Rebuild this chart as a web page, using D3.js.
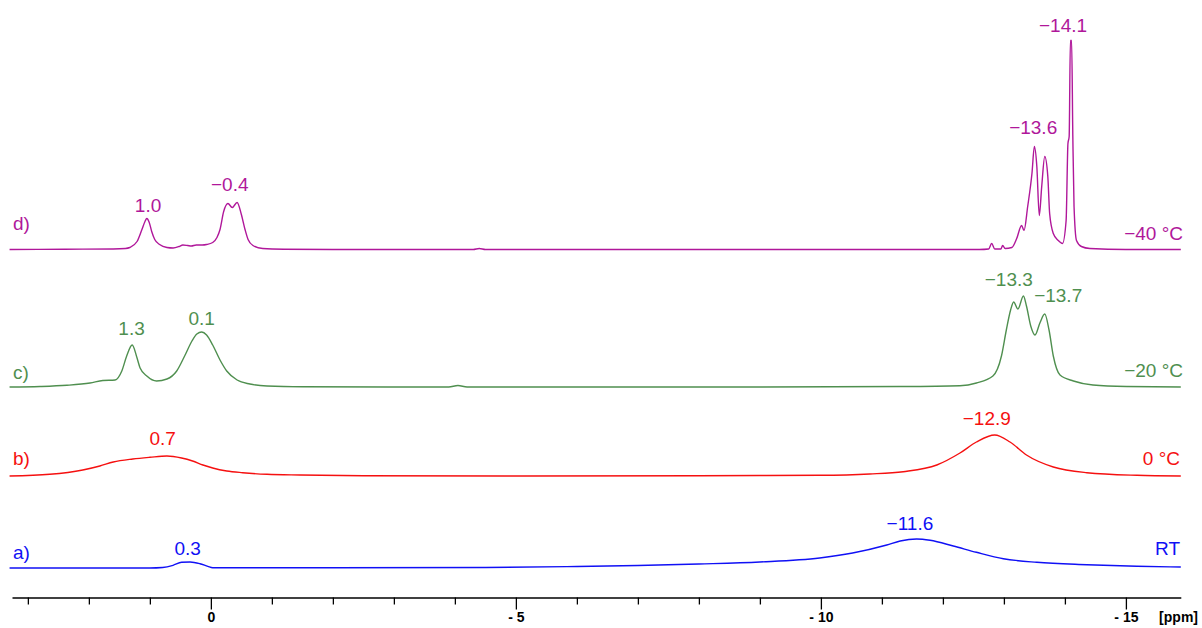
<!DOCTYPE html>
<html>
<head>
<meta charset="utf-8">
<script src="https://cdn.jsdelivr.net/npm/d3@7"></script>
<style>
  html, body { margin: 0; padding: 0; background: #fff; }
  svg { display: block; }
  text { font-family: "Liberation Sans", Arial, sans-serif; }
</style>
</head>
<body>
<svg id="chart" width="1202" height="628"></svg>
<script>
// 1H NMR spectra at four temperatures: [chemical shift (ppm), intensity]
const spectrumRT = [
  [3.30,0],[1.0,0],[0.79,0.5],[0.62,2.7],[0.48,5.7],[0.34,6],[0.18,4.3],[0.05,1.7],[-0.03,0.3],
  [-2,0.3],[-4.5,0.5],[-6,1.5],[-7,2.5],[-8,4],[-9,6],[-9.98,10],[-10.52,15],[-11.08,23],
  [-11.3,27],[-11.57,29],[-11.79,27.7],[-12.17,22],[-12.55,15.7],[-12.99,9.3],[-13.54,5.7],
  [-14.36,3.3],[-15.18,1.7],[-15.9,1]
];
const spectrum0C = [
  [3.30,0],[2.64,1.7],[2.10,6],[1.82,10],[1.60,14],[1.28,17],[1.00,18.7],[0.72,20],[0.48,18],
  [0.30,15],[0.13,11],[-0.03,8],[-0.26,5],[-0.52,3.3],[-0.92,1.7],[-1.46,1],[-2.5,0.3],[-5,0],
  [-8,0.3],[-9.0,0.5],[-9.98,0.7],[-10.8,2],[-11.35,4.3],[-11.9,11],[-12.28,23],[-12.55,34],
  [-12.85,41],[-13.1,34],[-13.37,21],[-13.81,9],[-14.36,3.3],[-15.18,0.7],[-15.9,0]
];
const spectrumM20C = [
  [3.30,0],[2.8,0.5],[2.36,1.7],[1.98,4],[1.77,6.5],[1.57,7],[1.46,16],[1.38,31],[1.29,42],
  [1.21,29],[1.16,19],[1.05,11],[0.89,6],[0.72,8],[0.56,16],[0.43,31],[0.31,46],[0.23,53],
  [0.15,55],[0.07,52],[-0.03,42],[-0.15,27],[-0.26,16],[-0.43,7],[-0.64,3],[-0.92,1],[-1.5,0.3],
  [-3.9,0],[-4.05,1.5],[-4.2,0],[-9,0],[-11.3,0.5],[-12.28,1.3],[-12.55,4],[-12.82,11],
  [-12.96,31],[-13.04,57],[-13.11,77],[-13.16,85],[-13.23,78],[-13.32,91],[-13.37,81],
  [-13.44,61],[-13.51,52],[-13.59,64],[-13.67,73],[-13.74,57],[-13.81,31],[-13.92,12],
  [-14.14,6],[-14.46,2],[-15.01,0.5],[-15.9,0]
];
const spectrumM40C = [
  [3.30,0],[2.40,0.3],[1.60,0.5],[1.40,1],[1.33,2],[1.21,8],[1.13,20],[1.08,28],[1.05,31],
  [1.01,27],[0.97,18],[0.92,10],[0.84,5],[0.72,2],[0.62,1.5],[0.52,3],[0.46,4.5],[0.38,4],
  [0.32,3.5],[0.24,4.5],[0.14,4.5],[0.07,5],[-0.03,7],[-0.10,12],[-0.15,20],[-0.21,38],
  [-0.28,46],[-0.35,42],[-0.43,47],[-0.50,35],[-0.56,20],[-0.61,10],[-0.69,4],[-0.85,1],
  [-1.2,0.3],[-2.0,0],[-4.3,0],[-4.4,1],[-4.5,0],[-8,0],[-12.6,0],[-12.75,0.5],[-12.80,6],
  [-12.85,0.5],[-12.95,0.5],[-12.98,4],[-13.02,1],[-13.13,2],[-13.21,11],[-13.29,24],
  [-13.33,19],[-13.39,43],[-13.46,76],[-13.50,103],[-13.54,83],[-13.58,34],[-13.62,63],
  [-13.67,93],[-13.72,73],[-13.75,36],[-13.81,16],[-13.89,9],[-13.96,6],[-14.02,29],
  [-14.05,106],[-14.07,113],[-14.09,209],[-14.11,209],[-14.13,113],[-14.15,43],[-14.19,9],
  [-14.27,3],[-14.41,1],[-15.0,0],[-15.9,0]
];

// Trace tags and temperature captions
const traceTags = ["a)", "b)", "c)", "d)"];
const temperatures = ["RT", "0 \u00B0C", "\u221220 \u00B0C", "\u221240 \u00B0C"];

// Peak shift labels per trace: [text, shift]
const peaksRT   = [["0.3", 0.38], ["\u221211.6", -11.46]];
const peaks0C   = [["0.7", 0.79], ["\u221212.9", -12.72]];
const peaksM20C = [["1.3", 1.30], ["0.1", 0.15], ["\u221213.3", -13.08], ["\u221213.7", -13.89]];
const peaksM40C = [["1.0", 1.03], ["\u22120.4", -0.31], ["\u221213.6", -13.48], ["\u221214.1", -13.97]];

// Axis ticks (ppm)
const tickValues = d3.range(3, -16, -1);
const labelledTicks = [0, -5, -10, -15];

// ---- layout & styling ----
const svg = d3.select("#chart");
const x = d3.scaleLinear().domain([3.26, -15.9]).range([12, 1180.8]);

const traces = [
  { data: spectrumRT,   peaks: peaksRT,   color: "#1010F5", base: 568,   tagLift: 16,  tempLift: 20, tempRight: 1180,
    peakLift: [20, 45] },
  { data: spectrum0C,   peaks: peaks0C,   color: "#F51010", base: 476,   tagLift: 18,  tempLift: 18, tempRight: 1180,
    peakLift: [38, 58] },
  { data: spectrumM20C, peaks: peaksM20C, color: "#4F8F4F", base: 387,   tagLift: 15,  tempLift: 17, tempRight: 1183,
    peakLift: [59, 69, 108, 92] },
  { data: spectrumM40C, peaks: peaksM40C, color: "#B0179A", base: 249.5, tagLift: 26.5, tempLift: 16.5, tempRight: 1183,
    peakLift: [44.5, 65, 122, 224] }
];

traces.forEach((t, i) => {
  const y = d3.scaleLinear().domain([0, 100]).range([t.base, t.base - 100]);
  const line = d3.line()
    .x(d => x(d[0]))
    .y(d => y(d[1]))
    .curve(d3.curveMonotoneX);

  const g = svg.append("g").attr("class", "trace");
  g.append("path")
    .datum(t.data)
    .attr("d", line)
    .attr("fill", "none")
    .attr("stroke", t.color)
    .attr("stroke-width", 1.4)
    .attr("stroke-linejoin", "round");

  g.append("text")
    .attr("x", 13).attr("y", t.base - t.tagLift)
    .attr("dominant-baseline", "central")
    .attr("font-size", 19)
    .attr("fill", t.color)
    .text(traceTags[i]);

  g.append("text")
    .attr("x", t.tempRight).attr("y", t.base - t.tempLift)
    .attr("text-anchor", "end")
    .attr("dominant-baseline", "central")
    .attr("font-size", 19)
    .attr("fill", t.color)
    .text(temperatures[i]);

  g.selectAll("text.peak")
    .data(t.peaks)
    .join("text")
    .attr("class", "peak")
    .attr("x", d => x(d[1]))
    .attr("y", (d, k) => t.base - t.peakLift[k])
    .attr("text-anchor", "middle")
    .attr("dominant-baseline", "central")
    .attr("font-size", 19)
    .attr("fill", t.color)
    .text(d => d[0]);
});

// ---- ppm axis ----
const axisY = 597.5;
const axis = d3.axisBottom(x)
  .tickValues(tickValues)
  .tickSizeOuter(0)
  .tickFormat(d => labelledTicks.includes(d) ? (d === 0 ? "0" : "- " + Math.abs(d)) : "");

const ax = svg.append("g")
  .attr("transform", `translate(0,${axisY})`)
  .call(axis);

ax.select(".domain").attr("stroke", "#000").attr("stroke-width", 1.6);
ax.selectAll(".tick line")
  .attr("stroke", "#000")
  .attr("stroke-width", 1.3)
  .attr("y2", d => labelledTicks.includes(d) ? 12 : 7);
ax.selectAll(".tick text")
  .attr("y", 19)
  .attr("dy", "0")
  .attr("dominant-baseline", "central")
  .attr("font-family", "'Liberation Sans', Arial, sans-serif")
  .attr("font-size", 14)
  .attr("font-weight", "bold")
  .attr("fill", "#000");

svg.append("text")
  .attr("x", 1198).attr("y", axisY + 19)
  .attr("text-anchor", "end")
  .attr("dominant-baseline", "central")
  .attr("font-size", 14)
  .attr("font-weight", "bold")
  .text("[ppm]");
</script>
</body>
</html>
